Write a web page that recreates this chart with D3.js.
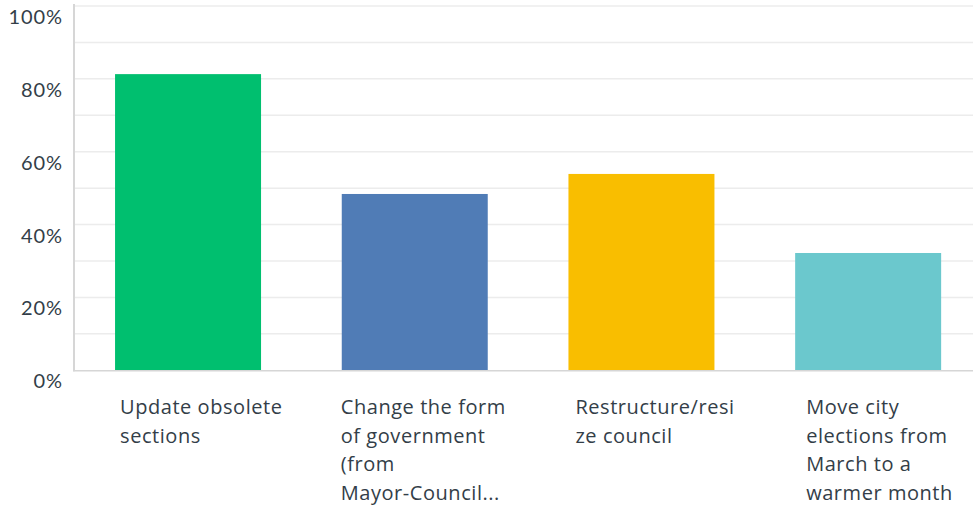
<!DOCTYPE html>
<html><head><meta charset="utf-8">
<script src="https://cdn.jsdelivr.net/npm/d3@7"></script>
<style>
html,body{margin:0;padding:0;background:#fff;}
svg{display:block;}
</style></head>
<body>
<svg id="chart" width="973" height="508"></svg>
<script>
// ---- data ----
const categories = ["Update obsolete sections", "Change the form of government (from Mayor-Council...", "Restructure/resize council", "Move city elections from March to a warmer month"];
const labelLines = [
  ["Update obsolete", "sections"],
  ["Change the form", "of government", "(from", "Mayor-Council..."],
  ["Restructure/resi", "ze council"],
  ["Move city", "elections from", "March to a", "warmer month"]
];
const values = [81.3, 48.4, 53.9, 32.2];
const colors = ["#00bf6f", "#507cb6", "#f9be00", "#6bc8cd"];
const tickValues = [0, 20, 40, 60, 80, 100];
const gridValues = [10, 20, 30, 40, 50, 60, 70, 80, 90, 100];

// ---- layout ----
const W = 973, H = 508;
const x0 = 74.7, x1 = 981.5, yTop = 6, yBot = 370.3;
const labelDx = [5, -1, 7, 11];
const svg = d3.select("#chart");

const x = d3.scaleBand().domain(categories).range([x0, x1]).paddingInner(0.356).paddingOuter(0.178);
const y = d3.scaleLinear().domain([0, 100]).range([yBot, yTop]);

// gridlines
svg.append("g").selectAll("line").data(gridValues).join("line")
  .attr("x1", 74).attr("x2", W)
  .attr("y1", d => y(d)).attr("y2", d => y(d))
  .attr("stroke", "#ececec").attr("stroke-width", 1.5);

// bars
svg.append("g").selectAll("rect").data(values).join("rect")
  .attr("x", (d, i) => x(categories[i]))
  .attr("width", x.bandwidth())
  .attr("y", d => y(d))
  .attr("height", d => yBot - y(d))
  .attr("fill", (d, i) => colors[i]);

// axis lines
svg.append("line").attr("x1", 74).attr("x2", 74).attr("y1", yTop - 2).attr("y2", yBot + 1)
  .attr("stroke", "#d6d6d6").attr("stroke-width", 2);
svg.append("line").attr("x1", 73).attr("x2", W).attr("y1", yBot + 0.5).attr("y2", yBot + 0.5)
  .attr("stroke", "#d6d6d6").attr("stroke-width", 1.5);

// y tick labels
svg.append("g").selectAll("text").data(tickValues).join("text")
  .attr("x", 63).attr("y", d => y(d) + 18)
  .attr("text-anchor", "end")
  .attr("font-family", "Lato, 'Open Sans', sans-serif")
  .attr("font-size", 20)
  .attr("letter-spacing", 0.9)
  .attr("fill", "#333e48")
  .text(d => d + "%");

// category labels
const lg = svg.append("g");
categories.forEach((c, i) => {
  const t = lg.append("text")
    .attr("x", x(c) + labelDx[i]).attr("y", 414)
    .attr("font-family", "'Open Sans', sans-serif")
    .attr("font-size", 20)
    .attr("letter-spacing", 0.55)
    .attr("fill", "#333e48");
  labelLines[i].forEach((ln, j) => {
    t.append("tspan").attr("x", x(c) + labelDx[i]).attr("y", 414 + j * 28.7).text(ln);
  });
});
</script>
</body></html>
